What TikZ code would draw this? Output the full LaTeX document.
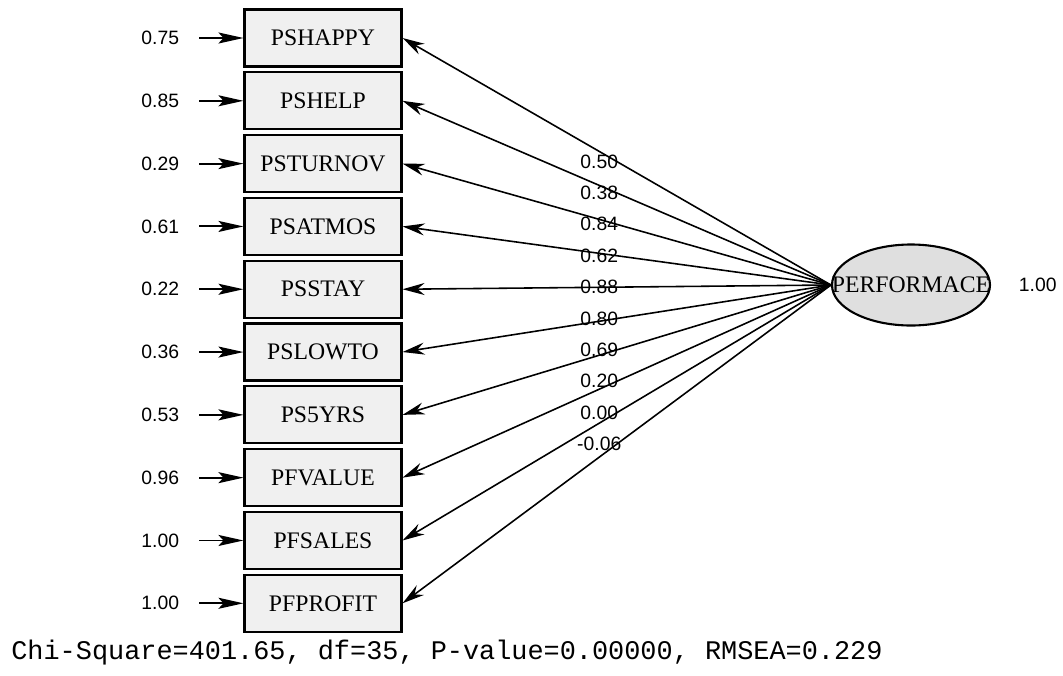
\documentclass[tikz,border=0pt]{standalone}
\usepackage{fontspec}
\setmainfont{Liberation Serif}
\setsansfont{Liberation Sans}
\setmonofont{Liberation Mono}
\usepackage{xcolor}
\usetikzlibrary{arrows.meta, positioning, shapes.geometric}

\begin{document}
\begin{tikzpicture}[
    node distance=0.074cm,
    obs/.style={rectangle, draw, line width=1.2pt, fill=gray!12, minimum width=3.14cm, minimum height=1.14cm, inner sep=0pt, font=\fontsize{13.5}{15}\selectfont},
    latent/.style={ellipse, draw, line width=1.2pt, fill=gray!25, minimum width=3.16cm, minimum height=1.62cm, inner sep=0pt},
    errval/.style={font=\sffamily\fontsize{11}{13}\selectfont, inner xsep=0.4cm, inner ysep=0pt},
    load/.style={font=\sffamily\fontsize{11}{13}\selectfont, inner sep=1pt, xshift=-0.35cm},
    arrow/.style={-{Stealth[length=4.4mm, width=2.4mm]}, line width=0.9pt},
    errarrow/.style={-{Stealth[length=5mm, width=2.2mm, inset=1mm]}, line width=1.1pt}
]
    \useasboundingbox (0,0) rectangle (21.26,-13.5);

    % Observed indicators, top to bottom
    \node[obs] (happy) at (6.46,-0.76) {PSHAPPY};
    \node[obs, below=of happy] (help) {PSHELP};
    \node[obs, below=of help] (turnov) {PSTURNOV};
    \node[obs, below=of turnov] (atmos) {PSATMOS};
    \node[obs, below=of atmos] (stay) {PSSTAY};
    \node[obs, below=of stay] (lowto) {PSLOWTO};
    \node[obs, below=of lowto] (fiveyrs) {PS5YRS};
    \node[obs, below=of fiveyrs] (value) {PFVALUE};
    \node[obs, below=of value] (sales) {PFSALES};
    \node[obs, below=of sales] (profit) {PFPROFIT};

    % Latent factor
    \node[latent] (perf) at (18.22,-5.7) {};
    \node[font=\fontsize{13.5}{15}\selectfont, inner sep=0pt] (perftext) at (perf) {PERFORMACE};
    \node[errval, right=0.15cm of perf] (perfvar) {1.00};

    % Error variances
    \node[errval, left=0.88cm of happy] (e1) {0.75};
    \node[errval, left=0.88cm of help] (e2) {0.85};
    \node[errval, left=0.88cm of turnov] (e3) {0.29};
    \node[errval, left=0.88cm of atmos] (e4) {0.61};
    \node[errval, left=0.88cm of stay] (e5) {0.22};
    \node[errval, left=0.88cm of lowto] (e6) {0.36};
    \node[errval, left=0.88cm of fiveyrs] (e7) {0.53};
    \node[errval, left=0.88cm of value] (e8) {0.96};
    \node[errval, left=0.88cm of sales] (e9) {1.00};
    \node[errval, left=0.88cm of profit] (e10) {1.00};

    \draw[errarrow] (e1) -- (happy);
    \draw[errarrow] (e2) -- (help);
    \draw[errarrow] (e3) -- (turnov);
    \draw[errarrow] (e4) -- (atmos);
    \draw[errarrow] (e5) -- (stay);
    \draw[errarrow] (e6) -- (lowto);
    \draw[errarrow] (e7) -- (fiveyrs);
    \draw[errarrow] (e8) -- (value);
    \draw[errarrow] (e9) -- (sales);
    \draw[errarrow] (e10) -- (profit);

    % Loadings
    \draw[arrow] (perf.west) -- node[load, pos=0.5] (l1) {0.50} (happy.east);
    \draw[arrow] (perf.west) -- node[load, pos=0.5] (l2) {0.38} (help.east);
    \draw[arrow] (perf.west) -- node[load, pos=0.5] (l3) {0.84} (turnov.east);
    \draw[arrow] (perf.west) -- node[load, pos=0.5] (l4) {0.62} (atmos.east);
    \draw[arrow] (perf.west) -- node[load, pos=0.5] (l5) {0.88} (stay.east);
    \draw[arrow] (perf.west) -- node[load, pos=0.5] (l6) {0.80} (lowto.east);
    \draw[arrow] (perf.west) -- node[load, pos=0.5] (l7) {0.69} (fiveyrs.east);
    \draw[arrow] (perf.west) -- node[load, pos=0.5] (l8) {0.20} (value.east);
    \draw[arrow] (perf.west) -- node[load, pos=0.5] (l9) {0.00} (sales.east);
    \draw[arrow] (perf.west) -- node[load, pos=0.5] (l10) {-0.06} (profit.east);

    % Fit statistics
    \node[anchor=base west, font=\ttfamily\fontsize{15.3}{17}\selectfont, inner sep=0pt] (fit) at (0.22,-13.18)
        {Chi-Square=401.65, df=35, P-value=0.00000, RMSEA=0.229};
\end{tikzpicture}
\end{document}
